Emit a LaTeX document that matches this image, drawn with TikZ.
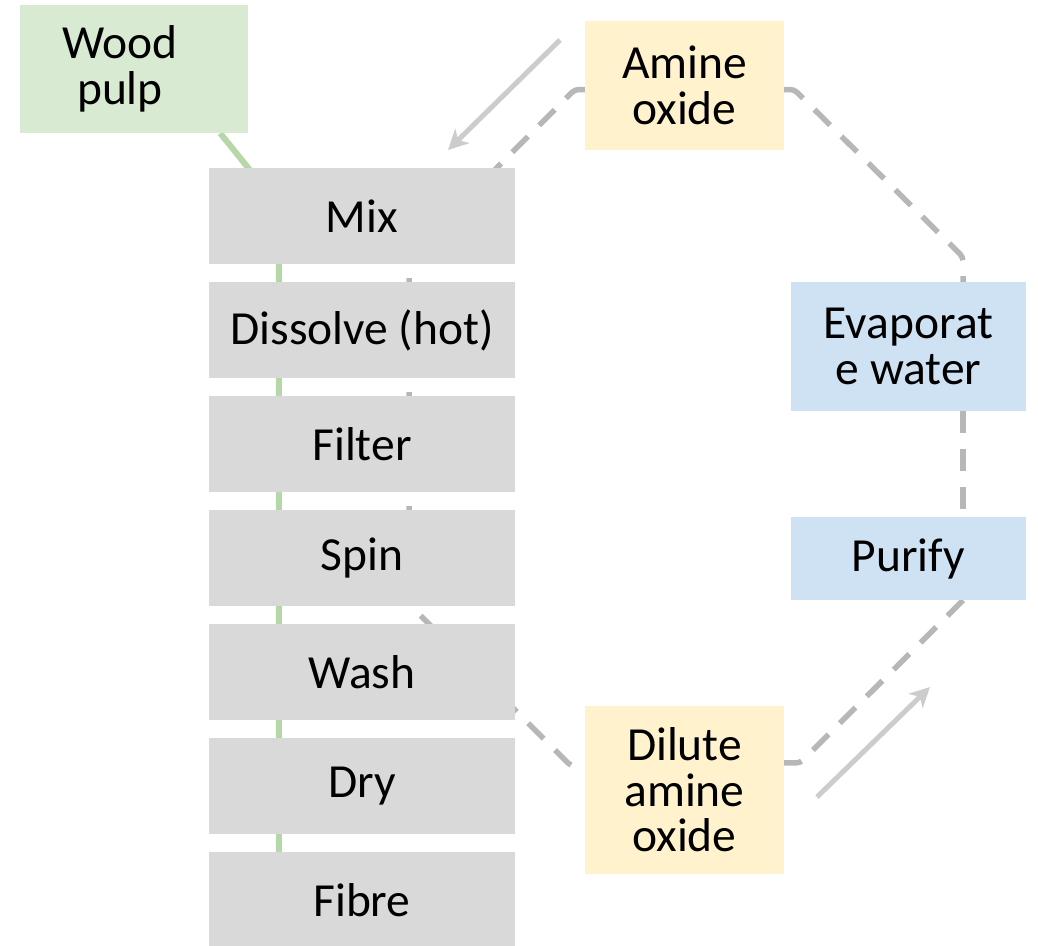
\documentclass[tikz,border=0pt]{standalone}
\usepackage{fontspec}
\setmainfont{Carlito}
\usetikzlibrary{calc,backgrounds,arrows.meta}
\definecolor{stepgrey}{HTML}{D9D9D9}
\definecolor{woodgreen}{HTML}{D9EAD3}
\definecolor{amineyellow}{HTML}{FFF2CC}
\definecolor{recycleblue}{HTML}{CFE2F3}
\definecolor{pulpline}{HTML}{B6D7A8}
\definecolor{loopline}{HTML}{B7B7B7}
\definecolor{flowarrow}{HTML}{CCCCCC}
\tikzset{
  boxbase/.style={rectangle, inner sep=0pt, align=center,
    font=\fontsize{47.5}{45.5}\selectfont, text=black},
  stepbox/.style={boxbase, fill=stepgrey, minimum width=306pt, minimum height=96pt},
  woodbox/.style={boxbase, fill=woodgreen, minimum width=228pt, minimum height=128pt},
  aminebox/.style={boxbase, fill=amineyellow, minimum width=199pt},
  bluebox/.style={boxbase, fill=recycleblue, minimum width=235pt},
  pulpflow/.style={draw=pulpline, line width=6pt},
  recycle/.style={draw=loopline, line width=5.5pt, dash pattern=on 22pt off 16pt,
    rounded corners=4pt},
  flow/.style={draw=flowarrow, line width=5pt,
    -{Stealth[length=20pt, width=20pt, inset=6pt]}},
}
\begin{document}
\begin{tikzpicture}[x=1pt, y=-1pt]
\useasboundingbox (0,0) rectangle (1038,945);

% process steps
\node[stepbox] (mix)      at (362,216) {Mix};
\node[stepbox] (dissolve) at (362,330) {Dissolve (hot)};
\node[stepbox] (filter)   at (362,444) {Filter};
\node[stepbox] (spin)     at (362,558) {Spin};
\node[stepbox] (wash)     at (362,672) {Wash};
\node[stepbox] (dry)      at (362,786) {Dry};
\node[stepbox] (fibre)    at (362,900) {Fibre};

% raw material and solvent loop
\node[woodbox] (wood) at (134,69) {Wood\hspace*{28pt}\\pulp\hspace*{28pt}};
\node[aminebox, minimum height=129pt] (amine)  at (684.5,85.5) {Amine\\oxide};
\node[aminebox, minimum height=168pt] (dilute) at (684.5,790) {Dilute\\amine\\oxide};
\node[bluebox, minimum height=129pt] (evap)   at (908.5,346.5) {Evaporat\\e water};
\node[bluebox, minimum height=83pt]  (purify) at (908.5,558.5) {Purify};

\coordinate (rx) at (963,0);
\coordinate (feedtail) at (560,40);
\coordinate (feedtip)  at (448,150);
\coordinate (backtail) at (817,797);
\coordinate (backtip)  at (930,687);

\begin{scope}[on background layer]
  % pulp stream down through the steps
  \draw[pulpflow] ($(wood.south east)+(-28,0)$) -- ($(mix.north west)+(70,38)$)
    -- ($(fibre.north west)+(70,10)$);
  % solvent loop
  \draw[recycle] ($(amine.west)+(0,4)$) -- ++(-10,0) -- (409,256) -- (409,604)
    -- (571,766) -- ($(dilute.north west)+(0,60)$);
  \draw[recycle] ($(amine.east)+(0,4)$) -- ++(10,0) -- (963,257) -- (evap.north -| rx);
  \draw[recycle] (evap.south -| rx) -- (purify.north -| rx);
  \draw[recycle] (purify.south -| rx) -- (800,763) -- ($(dilute.north east)+(0,57)$);
\end{scope}

\draw[flow] (feedtail) -- (feedtip);
\draw[flow] (backtail) -- (backtip);
\end{tikzpicture}
\end{document}
